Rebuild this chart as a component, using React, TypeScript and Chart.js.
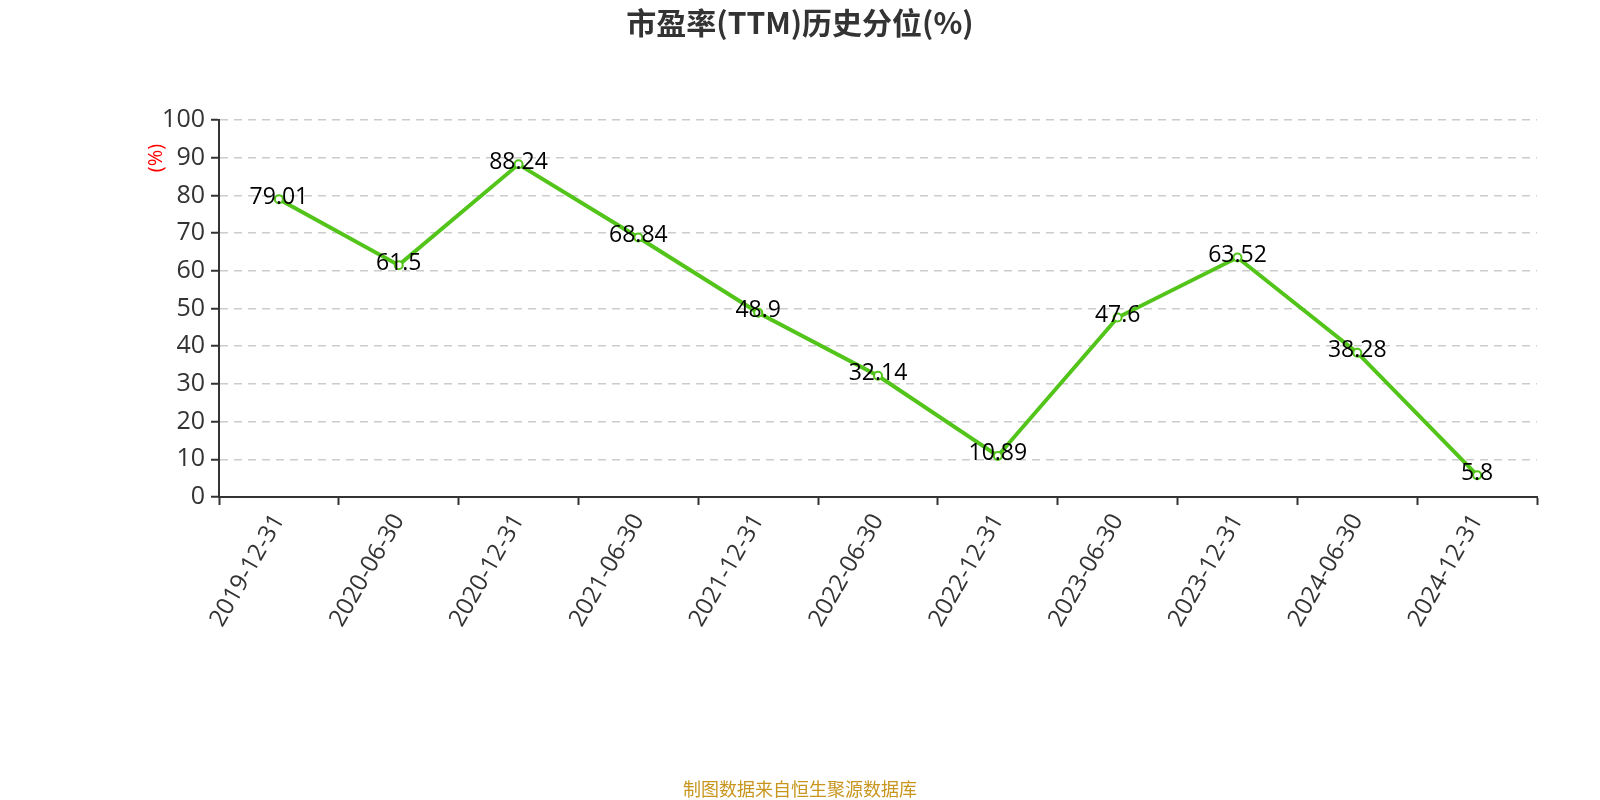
import React, { useEffect, useRef } from "react";
import { Chart, registerables } from "chart.js";

Chart.register(...registerables);

const categories = [
  "2019-12-31", "2020-06-30", "2020-12-31", "2021-06-30", "2021-12-31", "2022-06-30",
  "2022-12-31", "2023-06-30", "2023-12-31", "2024-06-30", "2024-12-31",
];
const values = [79.01, 61.5, 88.24, 68.84, 48.9, 32.14, 10.89, 47.6, 63.52, 38.28, 5.8];
const titleText = "市盈率(TTM)历史分位(%)";
const footerText = "制图数据来自恒生聚源数据库";
const yAxisTitle = "(%)";

const FONT = "'Open Sans', 'Noto Sans', sans-serif";
const CJK = "'Noto Sans CJK SC', sans-serif";

const decorPlugin = {
  id: "decor",
  afterDatasetsDraw(chart: any) {
    const ctx = chart.ctx;
    const meta = chart.getDatasetMeta(0);
    ctx.save();
    ctx.fillStyle = "#000";
    ctx.font = `23px ${FONT}`;
    ctx.textAlign = "center";
    ctx.textBaseline = "middle";
    meta.data.forEach((pt: any, i: number) => {
      ctx.fillText(String(values[i]), pt.x, pt.y - 2);
    });
    ctx.restore();
  },
  afterDraw(chart: any) {
    const ctx = chart.ctx;
    ctx.save();
    ctx.fillStyle = "#333";
    ctx.font = `bold 30px ${CJK}`;
    ctx.textAlign = "center";
    ctx.textBaseline = "middle";
    ctx.fillText(titleText, 800, 23);
    ctx.fillStyle = "#c8961e";
    ctx.font = `18px ${CJK}`;
    ctx.fillText(footerText, 800, 789);
    ctx.fillStyle = "#ff0000";
    ctx.font = `20px ${FONT}`;
    ctx.translate(156, 158);
    ctx.rotate(-Math.PI / 2);
    ctx.fillText(yAxisTitle, 0, 0);
    ctx.restore();
  },
};

export default function App() {
  const ref = useRef<HTMLCanvasElement>(null);
  useEffect(() => {
    document.body.style.margin = "0";
    const chart = new Chart(ref.current!, {
      type: "line",
      data: {
        labels: categories,
        datasets: [
          {
            data: values,
            borderColor: "#52c41a",
            borderWidth: 4,
            pointRadius: 4,
            pointBorderWidth: 2,
            pointBackgroundColor: "#ffffff",
            pointBorderColor: "#52c41a",
            tension: 0,
          },
        ],
      },
      options: {
        animation: false,
        responsive: false,
        maintainAspectRatio: false,
        layout: { padding: { top: 120, right: 63, left: 0, bottom: 0 } },
        plugins: { legend: { display: false }, tooltip: { enabled: false } },
        scales: {
          x: {
            offset: true,
            grid: {
              offset: true,
              display: true,
              drawOnChartArea: false,
              drawTicks: true,
              tickLength: 8,
              tickWidth: 2,
              tickColor: "#333",
            },
            border: { color: "#333", width: 2 },
            ticks: {
              color: "#333",
              font: { size: 24, family: FONT },
              maxRotation: 60,
              minRotation: 60,
              autoSkip: false,
              padding: 4,
            },
            afterFit(scale: any) {
              scale.height = 303;
            },
          },
          y: {
            min: 0,
            max: 100,
            ticks: {
              stepSize: 10,
              color: "#333",
              font: { size: 25, family: FONT },
              padding: 6,
            },
            grid: {
              color: "#cccccc",
              lineWidth: 1.5,
              tickLength: 8,
              tickColor: "#333",
              tickWidth: 2,
            },
            border: { color: "#333", width: 2, dash: [8, 6] as any },
            afterFit(scale: any) {
              scale.width = 219;
            },
          },
        },
      },
      plugins: [decorPlugin],
    });
    return () => chart.destroy();
  }, []);
  return (
    <div style={{ position: "fixed", left: 0, top: 0, width: 1600, height: 800, background: "#fff" }}>
      <canvas ref={ref} width={1600} height={800} style={{ width: 1600, height: 800 }} />
    </div>
  );
}
